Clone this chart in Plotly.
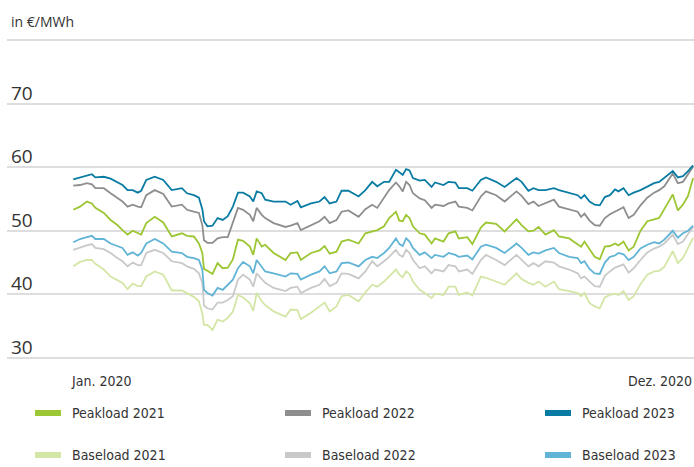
import plotly.graph_objects as go

# trading day index within 2020 (0 = 2 Jan, 365 = 31 Dec)
days = [0, 4, 8, 11, 13, 18, 22, 26, 29, 32, 35, 38, 40, 43, 48, 53, 58, 64, 67, 71, 74, 76, 77, 79, 82, 85, 88, 91, 94, 97,
        100, 104, 106, 108, 111, 113, 118, 125, 128, 132, 134, 140, 145, 148, 151, 155, 158, 162, 168, 172, 176, 179, 183,
        186, 190, 192, 194, 196, 198, 200, 204, 207, 211, 213, 218, 221, 225,
        227, 232, 235, 240, 243, 249, 254, 261, 264, 268, 271, 274, 278, 283, 286, 292, 297, 299, 301, 304, 307, 310, 313,
        316, 319, 321, 324, 327, 330, 334, 338, 342, 345, 348, 353, 356, 359, 362, 365]

peak_2023 = [58.1, 58.4, 58.7, 58.9, 58.4, 58.5, 58.2, 57.7, 57.2, 56.4, 56.4, 56.0, 56.3, 58.0, 58.5, 58.0, 56.4, 56.7, 55.9, 55.6, 55.2, 53.4, 51.5, 50.7, 50.8, 52.0, 51.7, 52.3, 53.8, 56.0,
             56.0, 55.4, 54.6, 56.2, 55.9, 54.9, 54.6, 54.6, 54.1, 54.7, 53.7, 54.3, 54.6, 55.3, 54.3, 54.6, 56.3, 56.3, 55.4, 56.4, 57.7, 57.0, 57.7, 57.7, 59.6, 59.2, 58.8, 59.7, 59.5, 58.3, 57.9, 58.0, 56.9, 57.6, 57.2, 57.7, 57.6,
             56.7, 56.7, 56.3, 58.0, 58.4, 57.7, 56.9, 58.3, 57.7, 56.3, 56.7, 56.4, 56.4, 56.7, 56.4, 55.9, 55.6, 55.1, 55.6, 54.6, 54.1, 54.0, 55.3, 55.6, 56.5, 56.2, 56.7, 55.6, 56.0, 56.4, 57.0, 57.5, 57.7, 58.3, 59.4, 58.4, 58.6, 59.4, 60.3]

peak_2022 = [57.1, 57.2, 57.5, 57.3, 56.7, 56.7, 55.9, 55.2, 54.6, 53.8, 54.1, 53.8, 53.7, 55.6, 56.4, 55.8, 53.8, 54.1, 53.3, 53.0, 52.8, 50.9, 48.5, 48.1, 48.1, 48.8, 49.0, 49.0, 51.2, 53.6,
             53.3, 52.5, 51.5, 53.6, 52.5, 52.0, 51.2, 50.6, 50.8, 51.2, 50.1, 50.9, 51.5, 52.2, 51.2, 51.7, 53.0, 53.2, 52.2, 53.4, 54.1, 53.6, 55.1, 56.4, 57.6, 57.0, 56.2, 57.7, 57.2, 55.9, 55.1, 54.8, 53.6, 54.1, 53.9, 54.3, 54.6,
             53.8, 53.6, 53.2, 55.4, 56.2, 55.6, 54.6, 56.2, 55.5, 54.2, 54.6, 53.9, 54.3, 54.9, 53.8, 53.4, 53.0, 52.2, 52.7, 51.6, 50.9, 50.8, 52.0, 52.6, 53.0, 53.3, 53.7, 52.0, 52.5, 54.0, 55.2, 56.0, 56.4, 57.0, 59.0, 57.5, 57.7, 58.9, 60.1]

peak_2021 = [53.3, 53.8, 54.6, 54.3, 53.6, 52.8, 51.7, 50.9, 50.1, 49.4, 50.0, 49.6, 49.4, 51.2, 52.2, 51.3, 49.1, 49.6, 49.2, 49.1, 48.0, 46.5, 44.0, 43.7, 43.2, 44.9, 44.1, 44.2, 45.5, 48.6,
             48.4, 47.5, 46.2, 48.8, 47.5, 47.8, 46.5, 45.4, 46.5, 46.6, 45.4, 46.5, 46.9, 47.6, 46.4, 46.7, 48.3, 48.6, 48.0, 49.6, 49.9, 50.1, 50.7, 52.0, 53.0, 51.6, 51.5, 52.5, 52.0, 50.7, 49.6, 49.4, 48.0, 48.8, 48.3, 49.6, 49.9,
             48.8, 49.0, 47.9, 50.5, 51.3, 51.1, 49.9, 51.8, 50.9, 49.9, 50.0, 50.6, 49.4, 50.1, 49.1, 48.8, 47.8, 47.5, 48.3, 47.0, 45.9, 45.5, 47.5, 47.6, 48.0, 47.7, 48.3, 46.9, 47.5, 50.0, 51.5, 51.8, 52.0, 53.4, 55.7, 53.2, 54.1, 55.5, 58.3]

base_2023 = [48.2, 48.7, 49.0, 49.2, 48.7, 48.7, 48.0, 47.6, 47.3, 46.2, 46.6, 46.1, 46.5, 48.0, 48.7, 48.0, 46.7, 46.5, 45.9, 45.7, 45.4, 43.9, 40.7, 40.2, 39.8, 41.0, 40.7, 41.5, 42.3, 44.1,
             45.1, 44.4, 43.3, 45.4, 44.4, 43.6, 43.3, 42.8, 43.3, 43.2, 42.3, 43.1, 43.6, 44.4, 43.3, 43.6, 44.9, 45.0, 44.4, 45.4, 45.9, 45.7, 46.5, 47.3, 48.8, 47.9, 47.6, 48.8, 48.3, 47.3, 46.2, 46.6, 45.7, 46.2, 45.9, 46.5, 46.2,
             45.9, 46.1, 45.5, 47.5, 47.8, 47.3, 46.5, 48.0, 47.3, 46.2, 46.6, 46.4, 46.9, 47.3, 46.5, 45.9, 45.7, 44.9, 45.2, 44.0, 43.3, 43.2, 45.0, 45.9, 46.1, 46.5, 46.3, 45.4, 45.9, 47.2, 47.8, 48.2, 48.0, 48.6, 50.0, 48.9, 49.6, 50.0, 50.8]

base_2022 = [47.0, 47.4, 47.7, 47.9, 47.3, 47.1, 46.5, 45.7, 45.2, 44.4, 45.0, 44.6, 44.6, 46.5, 47.0, 46.5, 45.2, 44.9, 44.4, 44.0, 43.3, 41.8, 38.2, 37.8, 37.6, 38.7, 38.7, 39.1, 39.7, 42.3,
             43.1, 42.3, 41.2, 43.3, 42.3, 41.8, 41.0, 40.5, 41.0, 41.2, 40.2, 41.0, 41.5, 42.4, 41.3, 41.8, 43.3, 43.2, 42.5, 43.6, 45.2, 44.4, 45.2, 45.9, 47.0, 46.2, 45.9, 47.0, 46.5, 45.4, 44.1, 44.4, 43.3, 43.9, 43.6, 44.6, 44.4,
             43.6, 43.9, 43.2, 45.4, 46.2, 45.4, 44.6, 46.2, 45.4, 44.4, 44.9, 44.4, 45.2, 45.0, 44.4, 43.9, 43.3, 42.5, 42.8, 42.0, 41.3, 41.2, 42.9, 43.6, 44.2, 44.4, 44.7, 43.4, 44.1, 45.4, 46.6, 47.2, 47.5, 48.0, 49.4, 47.9, 48.3, 49.5, 50.6]

base_2021 = [44.4, 45.1, 45.4, 45.4, 44.8, 43.9, 42.8, 42.3, 41.8, 40.8, 41.7, 41.3, 41.3, 42.8, 43.6, 43.1, 40.6, 40.6, 40.2, 39.6, 38.9, 37.0, 35.2, 35.2, 34.4, 36.0, 35.7, 36.3, 37.3, 39.9,
             39.5, 38.6, 37.4, 40.2, 38.9, 38.3, 37.3, 36.5, 37.6, 37.5, 36.1, 37.1, 38.1, 38.7, 37.3, 38.1, 39.7, 39.9, 38.9, 40.3, 41.5, 41.2, 42.0, 42.8, 43.9, 43.1, 42.7, 43.6, 43.2, 42.0, 40.7, 40.2, 39.4, 40.1, 39.9, 41.2, 41.2,
             39.9, 40.3, 39.8, 42.8, 42.6, 42.0, 41.5, 43.3, 42.4, 41.8, 41.5, 42.0, 41.2, 42.0, 40.8, 40.5, 40.2, 39.7, 40.2, 38.6, 38.1, 37.8, 39.5, 39.9, 40.1, 39.9, 40.5, 39.1, 39.7, 41.6, 43.1, 43.6, 43.7, 44.3, 46.8, 44.9, 45.7, 47.3, 48.9]

series_names = ["Peakload 2021", "Peakload 2022", "Peakload 2023", "Baseload 2021", "Baseload 2022", "Baseload 2023"]
series_values = [peak_2021, peak_2022, peak_2023, base_2021, base_2022, base_2023]
series_colors = ["#9cc633", "#8e8e8e", "#0a7ca3", "#d3e6a6", "#c9c9c9", "#62b4d6"]
draw_order = [3, 4, 5, 0, 1, 2]

y_ticks = [30, 40, 50, 60, 70]
unit_label = "in €/MWh"
x_labels = ["Jan. 2020", "Dez. 2020"]

TEXT = "#333333"
FONT_NUM = "Open Sans, Noto Sans, sans-serif"
FONT_TXT = "Liberation Sans Narrow, DejaVu Sans Condensed, Roboto, sans-serif"

W, H = 694, 467
M = dict(l=7, r=0, t=37, b=106)
PW, PH = W - M["l"] - M["r"], H - M["t"] - M["b"]


def px_x(px):
    return (px - M["l"]) / PW


def px_y(py):
    return (H - M["b"] - py) / PH


fig = go.Figure()
for i in draw_order:
    fig.add_trace(go.Scatter(x=days, y=series_values[i], mode="lines", name=series_names[i],
                             line=dict(color=series_colors[i], width=1.8), showlegend=False,
                             hoverinfo="x+y+name"))

annotations = []
shapes = []
for v in y_ticks:
    annotations.append(dict(text=str(v), xref="paper", x=0, xanchor="left", xshift=2,
                            yref="y", y=v, yanchor="bottom", yshift=-4, showarrow=False,
                            font=dict(family=FONT_NUM, size=19, color=TEXT)))
annotations.append(dict(text=unit_label, xref="paper", x=0, xanchor="left", xshift=2,
                        yref="y", y=80, yanchor="bottom", yshift=7, showarrow=False,
                        font=dict(family=FONT_NUM, size=14, color=TEXT)))
annotations.append(dict(text=x_labels[0], xref="x", x=days[0], xanchor="left", xshift=-4,
                        yref="paper", y=0, yanchor="middle", yshift=-20, showarrow=False,
                        font=dict(family=FONT_TXT, size=14, color=TEXT)))
annotations.append(dict(text=x_labels[1], xref="paper", x=1, xanchor="right", xshift=0,
                        yref="paper", y=0, yanchor="middle", yshift=-20, showarrow=False,
                        font=dict(family=FONT_TXT, size=14, color=TEXT)))

# legend: 2 rows x 3 columns (swatch + label)
legend_cols_px = [35, 285, 545]
legend_rows_px = [413, 455]
for i, name in enumerate(series_names):
    cx = legend_cols_px[i % 3]
    cy = legend_rows_px[i // 3]
    shapes.append(dict(type="line", xref="paper", yref="paper",
                       x0=px_x(cx), x1=px_x(cx + 26), y0=px_y(cy), y1=px_y(cy),
                       line=dict(color=series_colors[i], width=6)))
    annotations.append(dict(text=name, xref="paper", yref="paper", x=px_x(cx + 35), y=px_y(cy),
                            xanchor="left", yanchor="middle", showarrow=False,
                            font=dict(family=FONT_TXT, size=14, color=TEXT)))

fig.update_layout(
    width=W, height=H,
    margin=M,
    paper_bgcolor="white", plot_bgcolor="white",
    showlegend=False,
    xaxis=dict(range=[-39, 365.5], showgrid=False, zeroline=False, showticklabels=False,
               showline=False, fixedrange=True),
    yaxis=dict(range=[29.5, 80.5], tickvals=[30, 40, 50, 60, 70, 80], showticklabels=False,
               showgrid=True, gridcolor="#dedede", gridwidth=1.5, zeroline=False, showline=False,
               fixedrange=True),
    annotations=annotations,
    shapes=shapes,
    hovermode="closest",
)

fig.write_html("out.html", config={"displayModeBar": False},
               post_script="document.body.style.margin='0';")
